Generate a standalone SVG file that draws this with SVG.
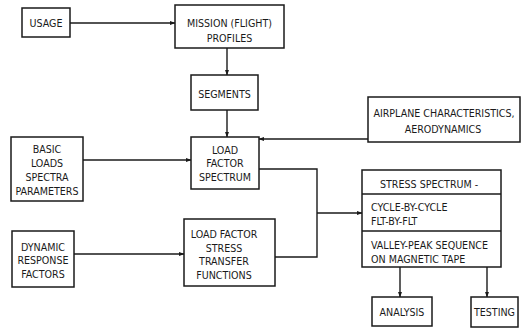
<svg xmlns="http://www.w3.org/2000/svg" width="522" height="331" viewBox="0 0 522 331">
<defs>
<style>
.box{fill:#fff;stroke:#1a1a1a;stroke-width:1.5}
.ln{fill:none;stroke:#1a1a1a;stroke-width:1.4}
text{font-family:"DejaVu Sans Condensed","DejaVu Sans",sans-serif;font-size:10.6px;fill:#1a1a1a}
.c{text-anchor:middle}
</style>
<marker id="ah" viewBox="0 0 10 10" refX="9" refY="5" markerWidth="6" markerHeight="6" orient="auto" markerUnits="userSpaceOnUse">
<path d="M0,1.5 L10,5 L0,8.5 Z" fill="#1a1a1a"/>
</marker>
</defs>
<rect width="522" height="331" fill="#fff"/>
<g id="connectors">
<line class="ln" x1="70" y1="23" x2="175" y2="23" marker-end="url(#ah)"/>
<line class="ln" x1="227" y1="48" x2="227" y2="75" marker-end="url(#ah)"/>
<line class="ln" x1="227" y1="110" x2="227" y2="137" marker-end="url(#ah)"/>
<line class="ln" x1="83" y1="160" x2="191" y2="160" marker-end="url(#ah)"/>
<line class="ln" x1="368" y1="139" x2="259" y2="139" marker-end="url(#ah)"/>
<line class="ln" x1="74" y1="254" x2="184" y2="254" marker-end="url(#ah)"/>
<polyline class="ln" points="259,169 317,169 317,257 275,257"/>
<line class="ln" x1="317" y1="213" x2="362" y2="213" marker-end="url(#ah)"/>
<line class="ln" x1="400" y1="267" x2="400" y2="297" marker-end="url(#ah)"/>
<line class="ln" x1="487" y1="267" x2="487" y2="297" marker-end="url(#ah)"/>
</g>
<g id="usage"><rect class="box" x="22" y="8" width="48" height="29"/><text class="c" x="46" y="27">USAGE</text></g>
<g id="mission"><rect class="box" x="175" y="5" width="109" height="43"/><text class="c" x="229.5" y="27">MISSION (FLIGHT)</text><text class="c" x="229.5" y="42">PROFILES</text></g>
<g id="segments"><rect class="box" x="191" y="75" width="67" height="35"/><text class="c" x="224.5" y="98">SEGMENTS</text></g>
<g id="airplane"><rect class="box" x="368" y="97" width="152" height="45"/><text class="c" x="444" y="117">AIRPLANE CHARACTERISTICS,</text><text class="c" x="443" y="133">AERODYNAMICS</text></g>
<g id="basic"><rect class="box" x="11" y="137" width="72" height="64"/><text class="c" x="47" y="153">BASIC</text><text class="c" x="47" y="167">LOADS</text><text class="c" x="47" y="181">SPECTRA</text><text class="c" x="47" y="195">PARAMETERS</text></g>
<g id="lfspectrum"><rect class="box" x="191" y="137" width="68" height="52"/><text class="c" x="225" y="154">LOAD</text><text class="c" x="225" y="167">FACTOR</text><text class="c" x="225" y="181">SPECTRUM</text></g>
<g id="dynamic"><rect class="box" x="12" y="231" width="62" height="56"/><text class="c" x="43" y="251">DYNAMIC</text><text class="c" x="43" y="264">RESPONSE</text><text class="c" x="43" y="278">FACTORS</text></g>
<g id="transfer"><rect class="box" x="184" y="219" width="91" height="67"/><text class="c" x="224" y="238">LOAD FACTOR</text><text class="c" x="224" y="252">STRESS</text><text class="c" x="224" y="265">TRANSFER</text><text class="c" x="224" y="279">FUNCTIONS</text></g>
<g id="stress"><rect class="box" x="362" y="170" width="139" height="97"/><line class="ln" x1="362" y1="194" x2="501" y2="194"/><line class="ln" x1="362" y1="231" x2="501" y2="231"/><text x="380" y="188">STRESS SPECTRUM -</text><text x="371" y="211">CYCLE-BY-CYCLE</text><text x="371" y="225">FLT-BY-FLT</text><text x="371" y="249">VALLEY-PEAK SEQUENCE</text><text x="371" y="263">ON MAGNETIC TAPE</text></g>
<g id="analysis"><rect class="box" x="372" y="297" width="60" height="29"/><text class="c" x="402" y="316">ANALYSIS</text></g>
<g id="testing"><rect class="box" x="471" y="297" width="47" height="30"/><text class="c" x="494.5" y="316">TESTING</text></g>
</svg>
